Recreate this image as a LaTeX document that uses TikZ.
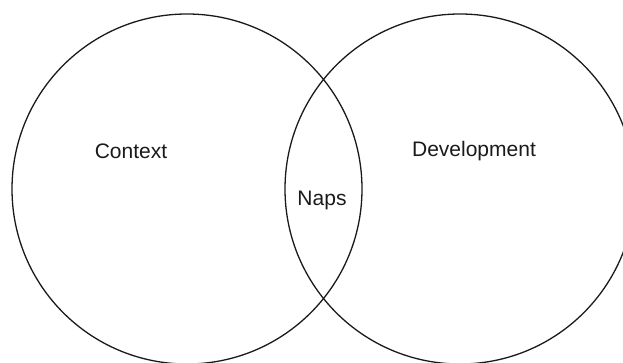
\documentclass[tikz,border=0pt]{standalone}
\usepackage{fontspec}
\setmainfont{Liberation Sans}
\usepackage{tikz}
\usetikzlibrary{positioning}
\definecolor{ink}{HTML}{1A1A1A}
\tikzset{
  every node/.style={text=ink},
  setcircle/.style={draw=ink, circle, line width=1.3pt,
    minimum size=350pt, inner sep=0pt},
  setlabel/.style={font=\fontsize{21}{25}\selectfont, inner sep=1pt}
}
\begin{document}
\begin{tikzpicture}[x=1pt,y=1pt]

% Frame of the picture; the right circle runs past its edge.
\useasboundingbox (0,0) rectangle (623,363);
\clip (0,0) rectangle (623,363);

% The two overlapping sets.
\node[setcircle] (context) at (187,174) {};
\node[setcircle] (development) at (460,174) {};

% Set names and their overlap.
\node[setlabel] (contextlabel) at (131,212) {Context};
\node[setlabel] (developmentlabel) at (474,212) {Development};
\node[setlabel] (naps) at (322,163) {Naps};

\end{tikzpicture}
\end{document}
